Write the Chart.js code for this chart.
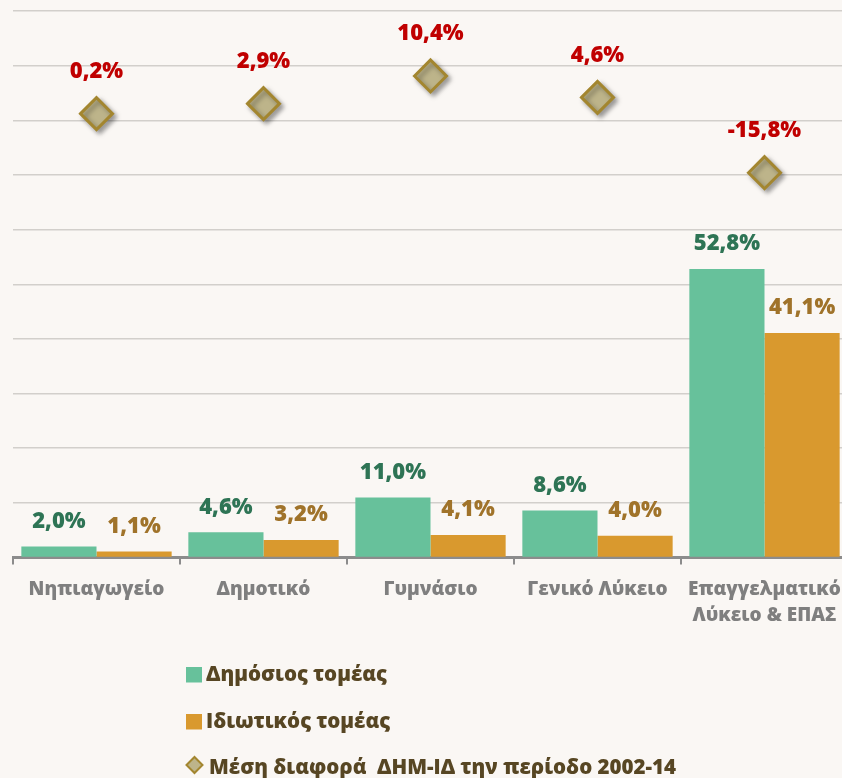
<!DOCTYPE html>
<html><head><meta charset="utf-8">
<script src="https://cdn.jsdelivr.net/npm/chart.js@4"></script>
<style>
html,body{margin:0;padding:0;background:#faf7f4;overflow:hidden;width:842px;height:778px}
#wrap{position:relative;width:860px;height:778px}
</style></head>
<body><div id="wrap"><canvas id="c"></canvas></div>
<script>
const categories = ['Νηπιαγωγείο', 'Δημοτικό', 'Γυμνάσιο', 'Γενικό Λύκειο', ['Επαγγελματικό', 'Λύκειο & ΕΠΑΣ']];
const publicSector = [2.0, 4.6, 11.0, 8.6, 52.8];
const privateSector = [1.1, 3.2, 4.1, 4.0, 41.1];
const avgDifference = [0.2, 2.9, 10.4, 4.6, -15.8];
const seriesNames = ['Δημόσιος τομέας', 'Ιδιωτικός τομέας', 'Μέση διαφορά  ΔΗΜ-ΙΔ την περίοδο 2002-14'];

const FONT = '"Open Sans", "Noto Sans", sans-serif';
const fmt = v => v.toFixed(1).replace('.', ',') + '%';

const shadowPlugin = {
  id: 'markerShadow',
  beforeDatasetDraw(chart, args) {
    if (chart.data.datasets[args.index].type === 'line') {
      const ctx = chart.ctx;
      ctx.save();
      ctx.shadowColor = 'rgba(0,0,0,0.35)';
      ctx.shadowBlur = 5;
      ctx.shadowOffsetX = 3;
      ctx.shadowOffsetY = 3;
    }
  },
  afterDatasetDraw(chart, args) {
    if (chart.data.datasets[args.index].type === 'line') chart.ctx.restore();
  }
};

const valueLabels = {
  id: 'valueLabels',
  afterDatasetsDraw(chart) {
    const ctx = chart.ctx;
    ctx.save();
    ctx.textAlign = 'center';
    ctx.textBaseline = 'middle';
    ctx.font = '800 22px ' + FONT;
    chart.data.datasets.forEach((ds, i) => {
      const meta = chart.getDatasetMeta(i);
      const off = ds.type === 'line' ? 42 : 25;
      ctx.fillStyle = ds.labelColor;
      meta.data.forEach((el, j) => {
        ctx.fillText(fmt(ds.data[j]), el.x, el.y - off);
      });
    });
    ctx.restore();
  }
};

const stackedLegend = {
  id: 'stackedLegend',
  afterDraw(chart) {
    const ctx = chart.ctx;
    const ds = chart.data.datasets;
    const baselines = [680.5, 727.5, 773.5];
    ctx.save();
    ctx.font = '800 20.5px ' + FONT;
    ctx.textBaseline = 'alphabetic';
    ctx.textAlign = 'left';
    ds.forEach((d, i) => {
      const b = baselines[i];
      if (d.type === 'line') {
        const cx = 194.5, cy = b - 8.5, r = 8;
        ctx.beginPath();
        ctx.moveTo(cx - r, cy); ctx.lineTo(cx, cy - r); ctx.lineTo(cx + r, cy); ctx.lineTo(cx, cy + r); ctx.closePath();
        ctx.fillStyle = d.backgroundColor; ctx.fill();
        ctx.lineWidth = 2; ctx.strokeStyle = d.borderColor; ctx.stroke();
        ctx.fillStyle = '#574623';
        ctx.fillText(d.label, 209, b);
      } else {
        ctx.fillStyle = d.backgroundColor;
        ctx.fillRect(186, b - 13.5, 16, 15.5);
        ctx.fillStyle = '#574623';
        ctx.fillText(d.label, 206, b);
      }
    });
    ctx.restore();
  }
};

function noPad(scale) {
  scale.paddingLeft = 0; scale.paddingRight = 0;
  scale.paddingTop = 0; scale.paddingBottom = 0;
}

new Chart(document.getElementById('c'), {
  type: 'bar',
  data: {
    labels: categories,
    datasets: [
      { label: seriesNames[0], data: publicSector, backgroundColor: '#67c19b', labelColor: '#2e7455', yAxisID: 'y', order: 1, categoryPercentage: 0.9, barPercentage: 1.0 },
      { label: seriesNames[1], data: privateSector, backgroundColor: '#d9992e', labelColor: '#a0732a', yAxisID: 'y', order: 1, categoryPercentage: 0.9, barPercentage: 1.0 },
      { type: 'line', label: seriesNames[2], data: avgDifference, showLine: false, yAxisID: 'y2', order: 0,
        pointStyle: 'rectRot', pointRadius: 16, pointHoverRadius: 16, pointBorderWidth: 3,
        backgroundColor: '#bdb48a', borderColor: '#a3862f', labelColor: '#c00000' }
    ]
  },
  options: {
    responsive: true,
    maintainAspectRatio: false,
    animation: false,
    layout: { autoPadding: false, padding: { left: 13, right: 12, top: 11, bottom: 0 } },
    plugins: { legend: { display: false }, tooltip: { enabled: false } },
    scales: {
      x: {
        grid: { display: true, drawOnChartArea: false, drawTicks: true, tickLength: 7, color: '#8c8c8c', lineWidth: 2, offset: true },
        border: { display: true, color: '#8c8c8c', width: 3 },
        ticks: { color: '#7f7f7f', font: { family: FONT, weight: 800, size: 19, lineHeight: 1.37 }, padding: 12, maxRotation: 0, autoSkip: false },
        afterFit(scale) { scale.height = 778 - 557.5; noPad(scale); }
      },
      y: {
        min: 0, max: 100,
        ticks: { stepSize: 10, display: false, padding: 0 },
        grid: { color: '#d2cfcb', lineWidth: 1.5, drawTicks: false },
        border: { display: false },
        afterFit(scale) { scale.width = 0; noPad(scale); }
      },
      y2: { display: false, min: -120, max: 28 }
    }
  },
  plugins: [shadowPlugin, valueLabels, stackedLegend]
});
</script>
</body></html>
